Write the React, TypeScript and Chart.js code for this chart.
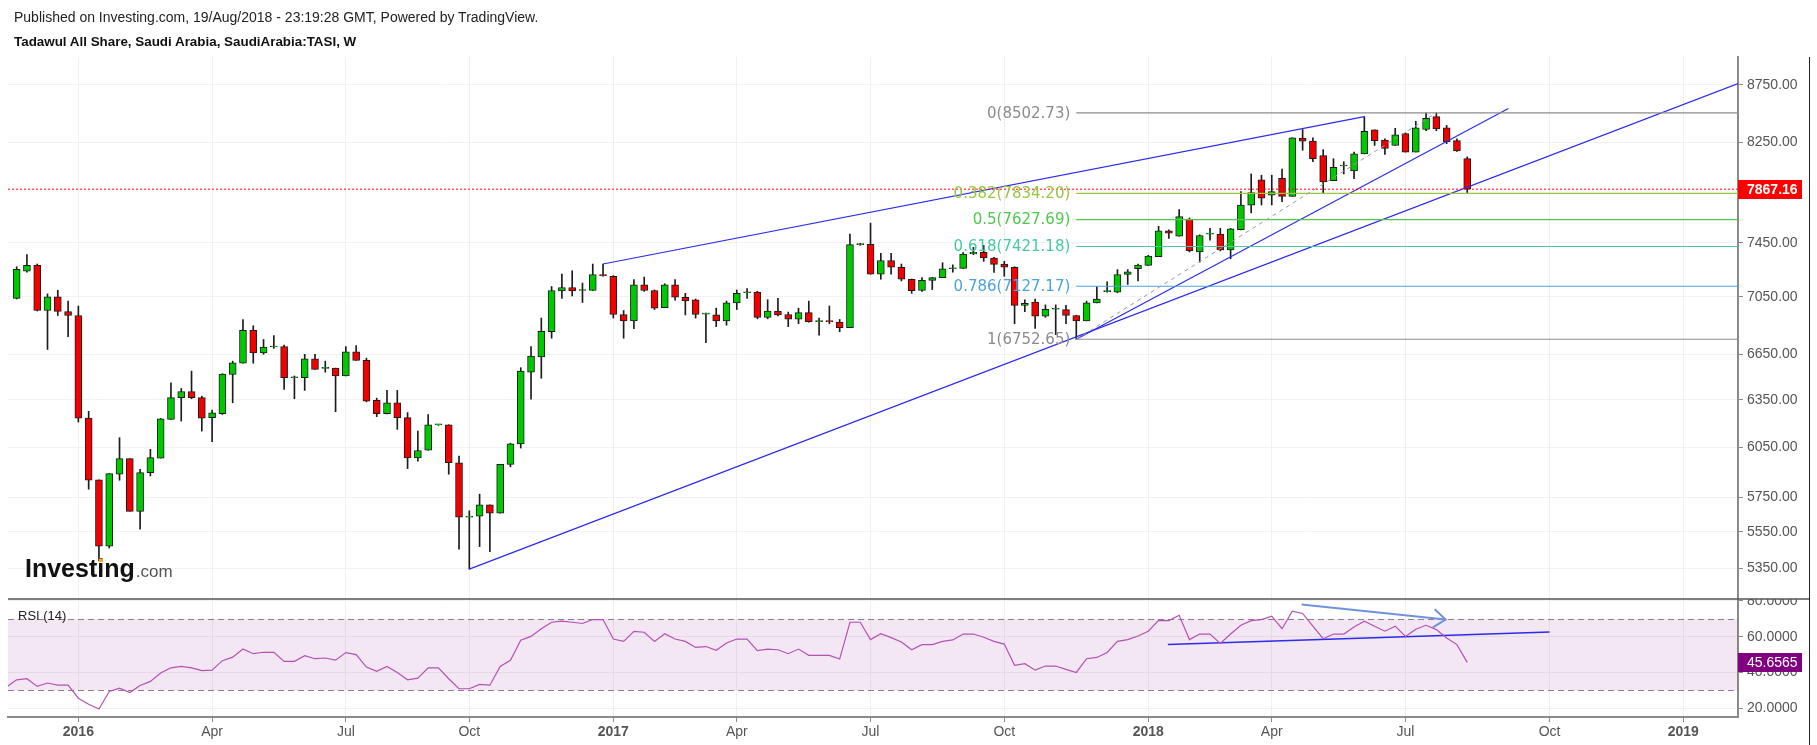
import React, { useEffect, useRef } from 'react';
import { Chart, registerables } from 'chart.js';

Chart.register(...registerables);

// ---------- data (weekly candles, index 0 = first visible week, late Nov 2015) ----------
const OPEN = [
  7040, 7238, 7281, 6953, 7050, 6946, 6918, 6232, 5852, 5470,
  5886, 5980, 5668, 5896, 5983, 6224, 6363, 6403, 6363, 6234,
  6260, 6515, 6590, 6815, 6660, 6700, 6703, 6493, 6493, 6620,
  6555, 6557, 6505, 6667, 6610, 6345, 6260, 6330, 6235, 5984,
  6032, 6189, 6189, 5955, 5634, 5640, 5705, 5657, 5945, 6071,
  6530, 6633, 6805, 7094, 7118, 7096, 7096, 7213, 7200, 6925,
  6880, 7138, 7096, 6973, 7138, 7048, 7030, 6928, 6922, 6880,
  7008, 7080, 7085, 6905, 6950, 6925, 6892, 6938, 6875, 6878,
  6871, 6832, 7435, 7438, 7215, 7316, 7266, 7178, 7096, 7170,
  7190, 7255, 7258, 7365, 7378, 7335, 7290, 7266, 6990, 7013,
  6914, 6962, 6960, 6918, 6880, 7008, 7088, 7084, 7213, 7255,
  7280, 7345, 7540, 7500, 7632, 7380, 7515, 7515, 7395, 7550,
  7740, 7943, 7820, 7955, 7810, 8285, 8262, 8140, 7935, 8055,
  8015, 8155, 8357, 8270, 8225, 8325, 8170, 8360, 8470, 8375,
  8265, 8115,
];
const HIGH = [
  7270, 7360, 7290, 7072, 7098, 7020, 6985, 6275, 5852, 5890,
  6109, 5980, 5916, 6037, 6230, 6460, 6423, 6537, 6373, 6283,
  6520, 6604, 6890, 6846, 6751, 6778, 6712, 6505, 6650, 6650,
  6604, 6557, 6702, 6710, 6624, 6360, 6410, 6410, 6267, 6150,
  6255, 6192, 6190, 5996, 5671, 5768, 5705, 5945, 6075, 6560,
  6702, 6900, 7125, 7215, 7240, 7150, 7290, 7290, 7205, 6953,
  7175, 7194, 7100, 7145, 7175, 7076, 7035, 6935, 6970, 7020,
  7100, 7110, 7090, 7030, 7040, 6942, 6970, 7020, 6900, 6985,
  6890, 7515, 7445, 7600, 7370, 7370, 7290, 7180, 7190, 7192,
  7300, 7285, 7375, 7415, 7430, 7340, 7310, 7270, 7030, 7035,
  6993, 6993, 6990, 6920, 7020, 7125, 7160, 7249, 7249, 7290,
  7355, 7575, 7548, 7705, 7640, 7510, 7560, 7560, 7560, 7848,
  7990, 7980, 7980, 8030, 8290, 8360, 8290, 8190, 8115, 8090,
  8170, 8470, 8357, 8280, 8370, 8330, 8430, 8500, 8502.73, 8395,
  8280, 8130,
];
const LOW = [
  7035, 7230, 6950, 6683, 6918, 6770, 6207, 5797, 5390, 5460,
  5850, 5668, 5566, 5876, 5983, 6224, 6213, 6356, 6150, 6085,
  6255, 6330, 6590, 6590, 6650, 6690, 6416, 6356, 6410, 6548,
  6530, 6273, 6505, 6608, 6336, 6241, 6258, 6161, 5920, 5965,
  6032, 6186, 5886, 5454, 5344, 5468, 5440, 5657, 5930, 6045,
  6354, 6490, 6760, 7040, 7057, 7010, 7096, 7200, 6900, 6760,
  6825, 7090, 6960, 6973, 7026, 6922, 6900, 6730, 6840, 6850,
  6960, 7040, 6895, 6895, 6915, 6840, 6860, 6871, 6780, 6860,
  6805, 6832, 7430, 7215, 7178, 7215, 7166, 7076, 7090, 7103,
  7190, 7230, 7258, 7360, 7310, 7228, 7200, 6860, 6945, 6828,
  6905, 6785, 6860, 6752.65, 6880, 7008, 7085, 7080, 7140, 7165,
  7280, 7345, 7482, 7500, 7380, 7305, 7470, 7388, 7330, 7548,
  7680, 7742, 7742, 7768, 7810, 8185, 8090, 7835, 7935, 7990,
  7952, 8155, 8225, 8150, 8225, 8170, 8170, 8350, 8350, 8240,
  8175, 7840,
];
const CLOSE = [
  7250, 7281, 6953, 7050, 6946, 6918, 6232, 5850, 5470, 5890,
  5980, 5668, 5896, 5986, 6228, 6363, 6403, 6363, 6232, 6266,
  6517, 6593, 6815, 6660, 6700, 6702, 6493, 6497, 6620, 6548,
  6557, 6505, 6667, 6608, 6340, 6260, 6330, 6235, 5984, 6030,
  6189, 6190, 5955, 5634, 5640, 5705, 5657, 5945, 6071, 6537,
  6638, 6808, 7096, 7118, 7094, 7098, 7213, 7203, 6925, 6880,
  7138, 7096, 6970, 7138, 7048, 7022, 6925, 6930, 6880, 7008,
  7076, 7085, 6905, 6950, 6922, 6892, 6938, 6875, 6878, 6875,
  6832, 7435, 7440, 7215, 7316, 7266, 7178, 7095, 7170, 7190,
  7255, 7258, 7365, 7378, 7335, 7288, 7266, 6990, 7005, 6914,
  6962, 6965, 6918, 6880, 7008, 7035, 7090, 7213, 7232, 7282,
  7350, 7540, 7522, 7650, 7390, 7505, 7520, 7395, 7555, 7740,
  7840, 7795, 7848, 7810, 8290, 8262, 8115, 7925, 8045, 8058,
  8155, 8345, 8265, 8200, 8315, 8170, 8375, 8455, 8365, 8255,
  8180, 7867.16,
];
// RSI of the week before the first visible candle (only its line segment shows)
const RSI_PREV = 31.8;
const RSI = [
  35.9, 36.5, 32.2, 34.1, 32.9, 32.9, 25.6, 22.2, 19.6, 29.4,
  31.2, 28.8, 32.7, 35.0, 39.7, 42.6, 43.4, 42.6, 41.0, 41.3,
  46.6, 48.6, 53.1, 50.5, 51.3, 51.3, 46.2, 46.2, 49.4, 47.7,
  48.1, 46.9, 51.1, 50.0, 43.0, 40.6, 43.4, 40.0, 35.9, 36.8,
  42.6, 42.6, 36.5, 30.9, 30.9, 33.3, 32.9, 43.4, 46.8, 58.0,
  60.2, 64.4, 68.1, 68.7, 68.1, 67.4, 69.6, 69.6, 58.7, 57.4,
  63.0, 62.5, 57.4, 61.7, 58.7, 57.4, 54.0, 54.5, 52.4, 56.5,
  58.7, 58.7, 52.2, 53.1, 52.7, 50.5, 53.1, 49.6, 49.6, 49.6,
  47.5, 68.1, 68.1, 58.4, 61.7, 59.5, 57.1, 52.7, 55.6, 55.6,
  57.4, 58.2, 61.5, 61.5, 59.7, 57.4, 55.9, 44.0, 44.9, 41.3,
  43.6, 43.6, 41.7, 40.0, 47.7, 48.4, 51.2, 57.4, 58.4, 60.4,
  63.1, 69.2, 69.0, 72.0, 58.4, 61.5, 61.5, 56.3, 61.5, 66.4,
  69.0, 69.6, 71.5, 64.5, 74.3, 73.0, 65.9, 58.9, 61.5, 61.5,
  65.5, 68.7, 65.9, 63.1, 65.9, 60.1, 64.2, 66.4, 64.0, 59.3,
  55.6, 45.6565,
];

const PRICE_TICKS = [5350, 5550, 5750, 6050, 6350, 6650, 7050, 7450, 8250, 8750];
const RSI_TICKS = [20, 40, 60, 80];
const RSI_BANDS = [30, 70];
const X_TICKS = [6, 19, 32, 44, 58, 70, 83, 96, 110, 122, 135, 149, 162];
const X_LABELS = ['2016', 'Apr', 'Jul', 'Oct', '2017', 'Apr', 'Jul', 'Oct', '2018', 'Apr', 'Jul', 'Oct', '2019'];

const X_MIN = -0.84;
const X_MAX = 167.32;
const PRICE_MIN = 5184;
const PRICE_MAX = 9000;
const RSI_MIN = 15.1;
const RSI_MAX = 81.1;

const LAST_PRICE = 7867.16;
const LAST_RSI = 45.6565;

const FIB_LEVELS = ['0', '0.382', '0.5', '0.618', '0.786', '1'];
const FIB_PRICES = [8502.73, 7834.2, 7627.69, 7421.18, 7127.17, 6752.65];
const FIB_COLORS = ['#8c8c8c', '#98c43e', '#4ec94e', '#45c9a6', '#4aa3df', '#8c8c8c'];
const FIB_START = 103;
const FIB_END = 138;

const UPPER_LINE = [{ x: 57, y: 7290 }, { x: 131, y: 8470 }];
const LOWER_LINE = [{ x: 44, y: 5344 }, { x: 167.32, y: 8760 }];
const STEEP_LINE = [{ x: 103, y: 6752.65 }, { x: 145, y: 8540 }];
const RSI_TREND = [{ x: 111.9, y: 55.6 }, { x: 149, y: 62.7 }];
const RSI_ARROW = [{ x: 124.9, y: 78.0 }, { x: 138.9, y: 69.6 }];

const UP = '#00c800';
const DOWN = '#f00000';
const FONT = '"Liberation Sans", Arial, sans-serif';

const lineDs = (data: any[], color: string, extra: any = {}) => ({
  type: 'line',
  data,
  borderColor: color,
  backgroundColor: color,
  borderWidth: 1,
  pointRadius: 0,
  fill: false,
  tension: 0,
  order: 0,
  yAxisID: 'y',
  ...extra,
});

const overlayPlugin = {
  id: 'overlay',
  beforeDatasetsDraw(chart: any) {
    const { ctx, chartArea: ca } = chart;
    const r = chart.scales.yRsi;
    const yTop = r.getPixelForValue(RSI_BANDS[1]);
    const yBot = r.getPixelForValue(RSI_BANDS[0]);
    ctx.save();
    ctx.fillStyle = 'rgba(150, 40, 150, 0.11)';
    ctx.fillRect(ca.left, yTop, ca.right - ca.left, yBot - yTop);
    ctx.strokeStyle = '#8c7f8c';
    ctx.lineWidth = 1;
    ctx.setLineDash([6, 4]);
    [yTop, yBot].forEach((y) => {
      ctx.beginPath();
      ctx.moveTo(ca.left, Math.round(y) + 0.5);
      ctx.lineTo(ca.right, Math.round(y) + 0.5);
      ctx.stroke();
    });
    ctx.restore();
  },
  afterDatasetsDraw(chart: any) {
    const { ctx } = chart;
    const xs = chart.scales.x;
    const ys = chart.scales.y;
    const r = chart.scales.yRsi;
    ctx.save();
    // fib labels
    ctx.font = '15px "DejaVu Sans", sans-serif';
    ctx.textAlign = 'right';
    ctx.textBaseline = 'middle';
    const lx = xs.getPixelForValue(FIB_START) - 6;
    FIB_LEVELS.forEach((lv, k) => {
      ctx.fillStyle = FIB_COLORS[k];
      ctx.fillText(`${lv}(${FIB_PRICES[k].toFixed(2)})`, lx, ys.getPixelForValue(FIB_PRICES[k]) + 1);
    });
    // arrow head on RSI arrow
    const p0x = xs.getPixelForValue(RSI_ARROW[0].x);
    const p0y = r.getPixelForValue(RSI_ARROW[0].y);
    const p1x = xs.getPixelForValue(RSI_ARROW[1].x);
    const p1y = r.getPixelForValue(RSI_ARROW[1].y);
    const ang = Math.atan2(p1y - p0y, p1x - p0x);
    ctx.strokeStyle = '#7092dd';
    ctx.lineWidth = 2;
    ctx.beginPath();
    ctx.moveTo(p1x + 15 * Math.cos(ang + Math.PI - 0.65), p1y + 15 * Math.sin(ang + Math.PI - 0.65));
    ctx.lineTo(p1x, p1y);
    ctx.lineTo(p1x + 15 * Math.cos(ang + Math.PI + 0.65), p1y + 15 * Math.sin(ang + Math.PI + 0.65));
    ctx.stroke();
    ctx.restore();
  },
  afterDraw(chart: any) {
    const { ctx, chartArea: ca } = chart;
    const ys = chart.scales.y;
    const r = chart.scales.yRsi;
    const sepY = ys.bottom;
    const rightEdge = ys.right;
    ctx.save();
    // hide upper half of the clipped top RSI label
    ctx.fillStyle = '#ffffff';
    ctx.fillRect(ca.right + 1, sepY - 10, rightEdge - ca.right - 1, 10);
    // pane separator
    ctx.strokeStyle = '#555555';
    ctx.lineWidth = 1.5;
    ctx.beginPath();
    ctx.moveTo(ca.left, sepY);
    ctx.lineTo(rightEdge, sepY);
    ctx.stroke();
    // right border
    ctx.strokeStyle = '#222222';
    ctx.lineWidth = 1;
    ctx.beginPath();
    ctx.moveTo(rightEdge + 0.5, ca.top);
    ctx.lineTo(rightEdge + 0.5, chart.height);
    ctx.stroke();

    // price badge
    const py = ys.getPixelForValue(LAST_PRICE);
    ctx.fillStyle = '#ff0000';
    ctx.fillRect(ca.right, Math.round(py) - 9, 64, 19);
    ctx.fillStyle = '#ffffff';
    ctx.font = `bold 14px ${FONT}`;
    ctx.textAlign = 'left';
    ctx.textBaseline = 'middle';
    ctx.fillText(LAST_PRICE.toFixed(2), ca.right + 9, Math.round(py) + 1);

    // rsi badge
    const ry = r.getPixelForValue(LAST_RSI);
    ctx.fillStyle = '#800080';
    ctx.fillRect(ca.right, Math.round(ry) - 9, 64, 19);
    ctx.fillStyle = '#ffffff';
    ctx.font = `14px ${FONT}`;
    ctx.fillText(LAST_RSI.toFixed(4), ca.right + 9, Math.round(ry) + 1);

    // RSI legend
    ctx.fillStyle = '#222222';
    ctx.font = `13px ${FONT}`;
    ctx.fillText('RSI (14)', ca.left + 10, sepY + 17);

    // Investing.com logo
    ctx.textBaseline = 'alphabetic';
    const base = 577;
    ctx.fillStyle = '#111111';
    ctx.font = `bold 25px ${FONT}`;
    ctx.fillText('Investing', 25, base);
    const w = ctx.measureText('Investing').width;
    const wPre = ctx.measureText('Invest').width;
    const wI = ctx.measureText('i').width;
    ctx.fillStyle = '#f5a623';
    ctx.fillRect(25 + wPre + wI * 0.2, base - 18.5, wI * 0.6, 3.5);
    ctx.fillStyle = '#555555';
    ctx.font = `17px ${FONT}`;
    ctx.fillText('.com', 25 + w + 1, base);
    ctx.restore();
  },
};

export default function App() {
  const ref = useRef<HTMLCanvasElement>(null);

  useEffect(() => {
    const idx = CLOSE.map((_, i) => i);
    const wicks = idx.map((i) => ({ x: i, y: [LOW[i], HIGH[i]] }));
    const bodies = idx.map((i) => ({ x: i, y: [OPEN[i], CLOSE[i]] }));
    const bodyColors = idx.map((i) => (CLOSE[i] >= OPEN[i] ? UP : DOWN));
    const rsiPts = [{ x: -1, y: RSI_PREV }, ...idx.map((i) => ({ x: i, y: RSI[i] }))];

    const datasets: any[] = [
      lineDs([{ x: FIB_START, y: FIB_PRICES[5] }, { x: FIB_END, y: FIB_PRICES[0] }], '#9a9a9a', { borderDash: [4, 4] }),
      ...FIB_PRICES.map((p, k) =>
        lineDs([{ x: FIB_START, y: p }, { x: X_MAX, y: p }], FIB_COLORS[k], { borderWidth: 1.2 })
      ),
      lineDs([{ x: X_MIN, y: LAST_PRICE }, { x: X_MAX, y: LAST_PRICE }], '#ff0000', { borderDash: [2, 2] }),
      lineDs(UPPER_LINE, '#2b2bf0', { borderWidth: 1.2 }),
      lineDs(LOWER_LINE, '#2b2bf0', { borderWidth: 1.2 }),
      lineDs(STEEP_LINE, '#2b2bf0', { borderWidth: 1.2 }),
      lineDs(rsiPts, '#b452b4', { yAxisID: 'yRsi', borderWidth: 1.2 }),
      lineDs(RSI_TREND, '#2b2bf0', { yAxisID: 'yRsi', borderWidth: 1.5 }),
      lineDs(RSI_ARROW, '#7092dd', { yAxisID: 'yRsi', borderWidth: 2 }),
      {
        type: 'bar',
        data: bodies,
        backgroundColor: bodyColors,
        borderColor: '#1c1c1c',
        borderWidth: 1,
        borderSkipped: false,
        barThickness: 7,
        minBarLength: 1,
        grouped: false,
        order: 1,
        yAxisID: 'y',
      },
      {
        type: 'bar',
        data: wicks,
        backgroundColor: '#1c1c1c',
        borderWidth: 0,
        barThickness: 1,
        grouped: false,
        order: 2,
        yAxisID: 'y',
      },
    ];

    const tickFont = { family: FONT, size: 14 };

    const chart = new Chart(ref.current as HTMLCanvasElement, {
      type: 'bar',
      data: { datasets },
      options: {
        animation: false,
        responsive: false,
        events: [],
        layout: { padding: { left: 8, right: 8, top: 57, bottom: 0 } },
        plugins: { legend: { display: false }, tooltip: { enabled: false } },
        scales: {
          x: {
            type: 'linear',
            min: X_MIN,
            max: X_MAX,
            offset: false,
            grid: { color: '#f0f0f0', offset: false, tickLength: 5, tickColor: '#888888' },
            border: { display: true, color: '#8a8a8a', width: 2 },
            afterBuildTicks: (s: any) => {
              s.ticks = X_TICKS.map((v) => ({ value: v }));
            },
            afterFit: (s: any) => {
              s.height = 28;
            },
            ticks: {
              autoSkip: false,
              maxRotation: 0,
              padding: 2,
              color: '#555555',
              font: (c: any) => ({
                ...tickFont,
                weight: /^\d{4}$/.test(c.tick ? c.tick.label : '') ? 'bold' : 'normal',
              }),
              callback: (v: any) => {
                const k = X_TICKS.indexOf(Number(v));
                return k >= 0 ? X_LABELS[k] : '';
              },
            },
          },
          y: {
            type: 'logarithmic',
            position: 'right',
            stack: 'panes',
            stackWeight: 542,
            min: PRICE_MIN,
            max: PRICE_MAX,
            grid: { color: '#f2f2f2', tickLength: 5, tickColor: '#888888' },
            border: { display: true, color: '#8a8a8a', width: 2 },
            afterBuildTicks: (s: any) => {
              s.ticks = PRICE_TICKS.map((v) => ({ value: v }));
            },
            afterFit: (s: any) => {
              s.width = 71;
            },
            ticks: {
              padding: 4,
              color: '#555555',
              font: tickFont,
              callback: (v: any) => Number(v).toFixed(2),
            },
          },
          yRsi: {
            type: 'linear',
            position: 'right',
            stack: 'panes',
            stackWeight: 118,
            min: RSI_MIN,
            max: RSI_MAX,
            grid: { color: '#f0f0f0', tickLength: 5, tickColor: '#888888' },
            border: { display: true, color: '#8a8a8a', width: 2 },
            afterBuildTicks: (s: any) => {
              s.ticks = RSI_TICKS.map((v) => ({ value: v }));
            },
            afterFit: (s: any) => {
              s.width = 71;
            },
            ticks: {
              padding: 4,
              color: '#555555',
              font: tickFont,
              callback: (v: any) => Number(v).toFixed(4),
            },
          },
        },
      } as any,
      plugins: [overlayPlugin],
    } as any);

    return () => chart.destroy();
  }, []);

  return (
    <div style={{ position: 'absolute', left: 0, top: 0, width: 1817, height: 745, background: '#ffffff', overflow: 'hidden' }}>
      <canvas ref={ref} width={1817} height={745} style={{ position: 'absolute', left: 0, top: 0, width: 1817, height: 745 }} />
      <div style={{ position: 'absolute', left: 14, top: 9, font: `14px ${FONT}`, color: '#222222', whiteSpace: 'nowrap' }}>
        Published on Investing.com, 19/Aug/2018 - 23:19:28 GMT, Powered by TradingView.
      </div>
      <div style={{ position: 'absolute', left: 14, top: 34, font: `bold 13.4px ${FONT}`, color: '#111111', whiteSpace: 'nowrap' }}>
        Tadawul All Share, Saudi Arabia, SaudiArabia:TASI, W
      </div>
    </div>
  );
}
